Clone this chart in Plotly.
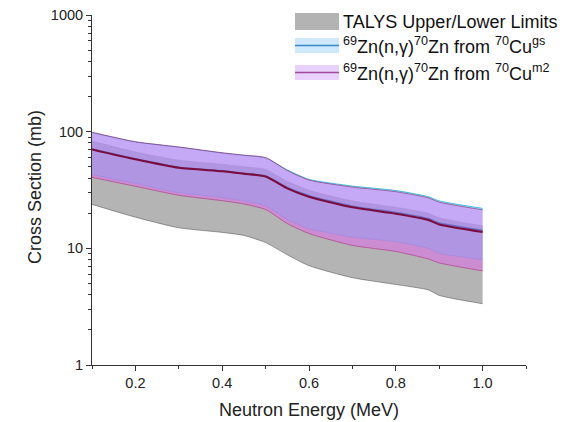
import plotly.graph_objects as go

# ---- data ----
energy = [0.1, 0.2, 0.3, 0.4, 0.45, 0.5, 0.55, 0.6, 0.7, 0.8, 0.875, 0.9, 1.0]

talys_lower = [23.8, 18.5, 15.0, 13.7, 12.9, 11.2, 8.8, 7.1, 5.6, 4.9, 4.4, 3.95, 3.35]
talys_upper = [83, 67, 57, 52.5, 50, 47.5, 37.5, 31.5, 25.5, 22.5, 20, 18.3, 15.6]

gs_lower = [43, 36, 30, 27.3, 25.5, 23.2, 17.7, 14.8, 12.5, 11.4, 10, 9.1, 8.0]
gs_upper = [98, 81.5, 73.5, 65.5, 62.5, 59.5, 47, 39, 34.2, 31.3, 27.7, 25.5, 22]
gs_mean = [71, 58.5, 49.5, 46.2, 44, 41.8, 33.2, 28.3, 23, 20.3, 18, 16.5, 14.3]

m2_lower = [40.6, 34, 28.5, 25.6, 24, 21.5, 16.3, 13.4, 10.6, 9.4, 8.1, 7.5, 6.4]
m2_upper = [99, 82, 74, 66, 63, 60, 46.5, 38.5, 33.5, 30.6, 27.1, 24.9, 21.4]
m2_mean = [70.5, 58, 49, 45.8, 43.6, 41.3, 32.7, 27.7, 22.5, 19.8, 17.5, 16, 13.8]

x_ticks = [0.2, 0.4, 0.6, 0.8, 1.0]
x_ticktext = ["0.2", "0.4", "0.6", "0.8", "1.0"]
y_ticks = [1, 10, 100, 1000]
y_ticktext = ["1", "10", "100", "1000"]

x_title = "Neutron Energy (MeV)"
y_title = "Cross Section (mb)"
legend_labels = [
    "TALYS Upper/Lower Limits",
    "<sup>69</sup>Zn(n,γ)<sup>70</sup>Zn from <sup>70</sup>Cu<sup>gs</sup>",
    "<sup>69</sup>Zn(n,γ)<sup>70</sup>Zn from <sup>70</sup>Cu<sup>m2</sup>",
]

FONT = "Liberation Sans, Arial, sans-serif"
SM = dict(shape="spline", smoothing=0.6)

fig = go.Figure()

# TALYS band
fig.add_trace(go.Scatter(x=energy, y=talys_lower, mode="lines",
                         line=dict(color="rgba(70,70,70,0.7)", width=0.7, **SM),
                         showlegend=False, hoverinfo="skip"))
fig.add_trace(go.Scatter(x=energy, y=talys_upper, mode="lines", fill="tonexty",
                         fillcolor="#b4b4b4",
                         line=dict(color="rgba(110,110,110,0.5)", width=0.7, **SM),
                         showlegend=False, hoverinfo="skip"))
# gs band
fig.add_trace(go.Scatter(x=energy, y=gs_lower, mode="lines",
                         line=dict(color="rgba(60,160,220,0.6)", width=0.7, **SM),
                         showlegend=False, hoverinfo="skip"))
fig.add_trace(go.Scatter(x=energy, y=gs_upper, mode="lines", fill="tonexty",
                         fillcolor="rgba(60,220,255,0.46)",
                         line=dict(color="rgba(40,170,220,0.9)", width=0.9, **SM),
                         showlegend=False, hoverinfo="skip"))
# m2 band
fig.add_trace(go.Scatter(x=energy, y=m2_lower, mode="lines",
                         line=dict(color="rgba(170,40,120,0.7)", width=0.8, **SM),
                         showlegend=False, hoverinfo="skip"))
fig.add_trace(go.Scatter(x=energy, y=m2_upper, mode="lines", fill="tonexty",
                         fillcolor="rgba(228,100,240,0.5)",
                         line=dict(color="rgba(130,20,80,0.7)", width=0.8, **SM),
                         showlegend=False, hoverinfo="skip"))
# mean lines
fig.add_trace(go.Scatter(x=energy, y=gs_mean, mode="lines",
                         line=dict(color="rgba(90,100,190,0.8)", width=1.5, **SM),
                         showlegend=False, hoverinfo="skip"))
fig.add_trace(go.Scatter(x=energy, y=m2_mean, mode="lines",
                         line=dict(color="#7a0b3c", width=2, **SM),
                         showlegend=False, hoverinfo="skip"))

# ---- manual legend and axis titles (paper coords relative to plot area) ----
def px2x(px):
    return (px - 92) / 434.0

def py2y(py):
    return (365 - py) / 350.0

sw_x0, sw_x1 = px2x(295), px2x(339)
rows = [(13, 30), (38, 53), (65, 80)]
sw_fill = ["#b3b3b3", "#cde9fb", "#e8d2fd"]
sw_line = [None, "#3a86c6", "#a04a9c"]
text_y = [21.5, 46, 72.5]

shapes = []
annotations = []
for i, (t, b) in enumerate(rows):
    shapes.append(dict(type="rect", xref="paper", yref="paper",
                       x0=sw_x0, x1=sw_x1, y0=py2y(b), y1=py2y(t),
                       fillcolor=sw_fill[i], line=dict(width=0), layer="above"))
    if sw_line[i]:
        ym = py2y((t + b) / 2.0)
        shapes.append(dict(type="line", xref="paper", yref="paper",
                           x0=sw_x0, x1=sw_x1, y0=ym, y1=ym,
                           line=dict(color=sw_line[i], width=1.6), layer="above"))
    annotations.append(dict(xref="paper", yref="paper", x=px2x(341), y=py2y(text_y[i]),
                            xanchor="left", yanchor="middle", showarrow=False,
                            text=legend_labels[i],
                            font=dict(family=FONT, size=18, color="#111")))

annotations.append(dict(xref="paper", yref="paper", x=0.5, y=py2y(410),
                        xanchor="center", yanchor="middle", showarrow=False,
                        text=x_title, font=dict(family=FONT, size=18, color="#222")))
annotations.append(dict(xref="paper", yref="paper", x=px2x(35), y=py2y(187),
                        xanchor="center", yanchor="middle", showarrow=False, textangle=-90,
                        text=y_title, font=dict(family=FONT, size=18, color="#222")))

# body has an 8px default margin: compensate so the plot area lands at x 92..526, y 15..365
fig.update_layout(
    width=573, height=422,
    margin=dict(l=84, r=55, t=7, b=65),
    paper_bgcolor="white", plot_bgcolor="white",
    showlegend=False,
    shapes=shapes, annotations=annotations,
    font=dict(family=FONT, size=14, color="#222"),
)
fig.update_xaxes(
    range=[0.1, 1.1], tickvals=x_ticks, ticktext=x_ticktext, automargin=False,
    ticklabeloverflow="allow",
    showline=True, linecolor="#333", linewidth=1, showgrid=False, zeroline=False,
    ticks="outside", ticklen=5, tickcolor="#333",
    minor=dict(tickvals=[0.1, 0.3, 0.5, 0.7, 0.9, 1.1], ticks="outside", ticklen=3, tickcolor="#333"),
    tickfont=dict(family=FONT, size=14.5, color="#222"),
)
fig.update_yaxes(
    type="log", range=[0, 3], tickvals=y_ticks, ticktext=y_ticktext, automargin=False,
    ticklabeloverflow="allow",
    showline=True, linecolor="#333", linewidth=1, showgrid=False, zeroline=False,
    ticks="outside", ticklen=5, tickcolor="#333",
    minor=dict(ticks="outside", ticklen=3, tickcolor="#333", dtick="D1", showgrid=False),
    tickfont=dict(family=FONT, size=14.5, color="#222"),
)

fig.write_html("out.html")
